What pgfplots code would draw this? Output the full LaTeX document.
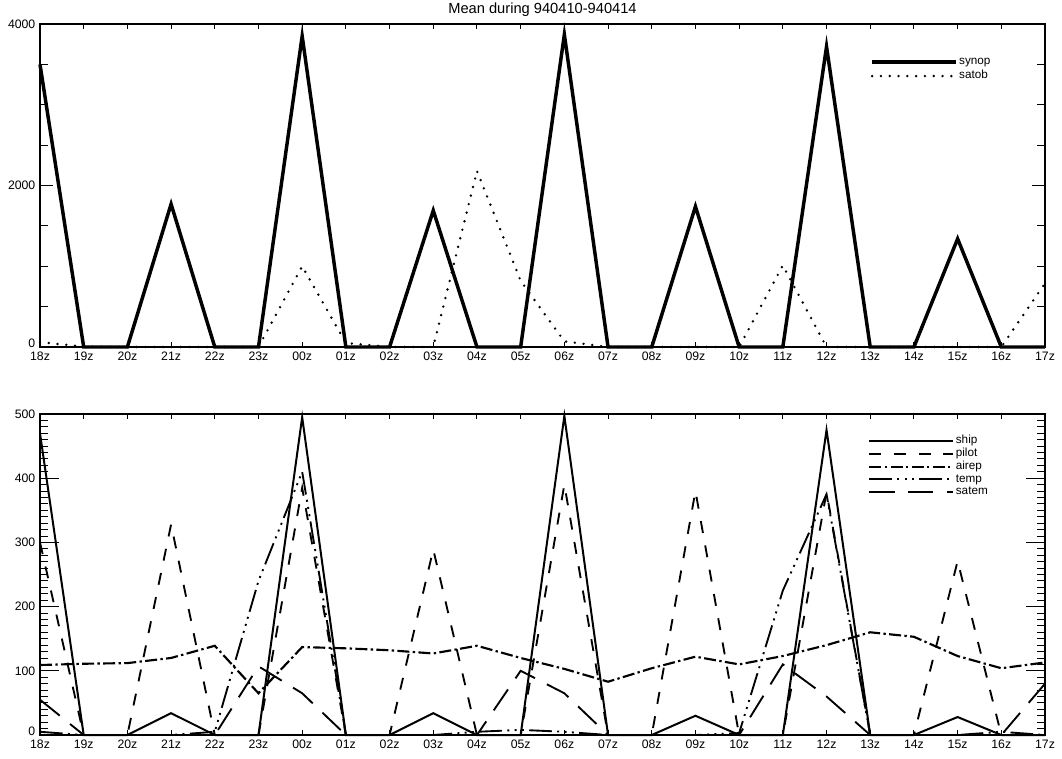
\documentclass[border=0pt]{standalone}
\usepackage{pgfplots}
\usepackage{pgfplotstable}
\pgfplotsset{compat=1.18}
\usepackage{fontspec}
\setmainfont{Liberation Sans}

\pgfplotstableread{
x synop satob
0 3500 60
1 0 5
2 0 0
3 1770 0
4 0 0
5 0 0
6 3850 1000
7 0 50
8 0 0
9 1690 0
10 0 2180
11 0 820
12 3870 70
13 0 0
14 0 0
15 1740 0
16 0 0
17 0 1010
18 3720 0
19 0 0
20 0 0
21 1340 0
22 0 0
23 0 790
}\toptable

\pgfplotstableread{
x ship pilot airep temp satem
0 470 300 109 5 55
1 0 0 111 0 0
2 0 0 112 0 0
3 34 328 120 0 0
4 0 0 139 5 0
5 0 0 65 240 107
6 495 385 137 410 65
7 0 0 135 0 0
8 0 0 132 0 0
9 34 289 127 0 0
10 0 0 139 5 0
11 0 0 120 8 100
12 497 390 103 5 65
13 0 0 83 0 0
14 0 0 104 0 0
15 30 380 122 0 0
16 0 0 110 3 0
17 0 0 123 225 110
18 475 378 140 375 60
19 0 0 160 0 0
20 0 0 153 0 0
21 28 271 123 0 0
22 0 0 104 5 0
23 0 0 113 0 80
}\bottable

\pgfplotsset{
  panel/.style={
    scale only axis,
    width=753.75pt,
    xmin=0, xmax=23,
    xtick={0,...,23},
    xticklabels={18z,19z,20z,21z,22z,23z,00z,01z,02z,03z,04z,05z,06z,07z,08z,09z,10z,11z,12z,13z,14z,15z,16z,17z},
    tick align=inside,
    clip=false,
    axis line style={line width=1pt},
    every tick/.style={black, line width=0.7pt},
    ticklabel style={font=\fontsize{9.2}{10}\selectfont},
    /pgf/number format/assume math mode=true,
    yticklabel style={/pgf/number format/1000 sep={}},
    x tick style={/pgfplots/major tick length=3.5pt},
    extra y ticks={0},
    extra y tick style={yticklabel style={yshift=3pt}},
    legend cell align=left,
    legend style={draw=none, fill=none, anchor=north west, inner sep=0pt,
      font=\fontsize{8.8}{9}\selectfont,
      nodes={inner sep=1pt, text height=6.2pt, text depth=2pt},
      /tikz/every even column/.append style={column sep=6pt}},
    legend image code/.code={\draw[#1] (0pt,0pt) -- (63pt,0pt);},
  },
}

\begin{document}
\begin{tikzpicture}
\path[use as bounding box] (0,0) rectangle (796.5pt,568.5pt);

\begin{axis}[panel,
  at={(30pt,308.25pt)}, anchor=south west,
  height=242.25pt,
  ymin=0, ymax=4000,
  ytick={2000,4000},
  minor ytick={500,1000,1500,2500,3000,3500},
  y tick style={/pgfplots/major tick length=10pt, /pgfplots/minor tick length=6pt},
  legend style={at={(rel axis cs:0.826,0.904)}, row sep=0.3pt},
]
\addplot[black, line width=2.6pt] table[x=x, y=synop] {\toptable};
\addlegendentry{synop}
\addplot[black, line width=2pt, line cap=round, dash pattern=on 0pt off 6.6pt] table[x=x, y=satob] {\toptable};
\addlegendentry{satob}
\node[anchor=base, inner sep=0pt, font=\fontsize{11}{12}\selectfont] at (rel axis cs:0.5,1.031) {Mean during 940410-940414};
\end{axis}

\begin{axis}[panel,
  at={(30pt,17.25pt)}, anchor=south west,
  height=240.75pt,
  ymin=0, ymax=500,
  ytick={100,200,...,500},
  minor ytick={10,20,...,490},
  y tick style={/pgfplots/major tick length=14pt, /pgfplots/minor tick length=6pt},
  legend style={at={(rel axis cs:0.824,0.938)}, row sep=-0.6pt},
]
\addplot[black, line width=1.5pt] table[x=x, y=ship] {\bottable};
\addlegendentry{ship}
\addplot[black, line width=1.4pt, dash pattern=on 9pt off 9.5pt] table[x=x, y=pilot] {\bottable};
\addlegendentry{pilot}
\addplot[black, line width=1.6pt, dash pattern=on 9pt off 2.5pt on 1.8pt off 2.5pt] table[x=x, y=airep] {\bottable};
\addlegendentry{airep}
\addplot[black, line width=1.4pt, dash pattern=on 17pt off 4pt on 1.5pt off 4pt on 1.5pt off 4pt on 1.5pt off 4pt] table[x=x, y=temp] {\bottable};
\addlegendentry{temp}
\addplot[black, line width=1.4pt, dash pattern=on 19pt off 10pt] table[x=x, y=satem] {\bottable};
\addlegendentry{satem}
\end{axis}
\end{tikzpicture}
\end{document}
